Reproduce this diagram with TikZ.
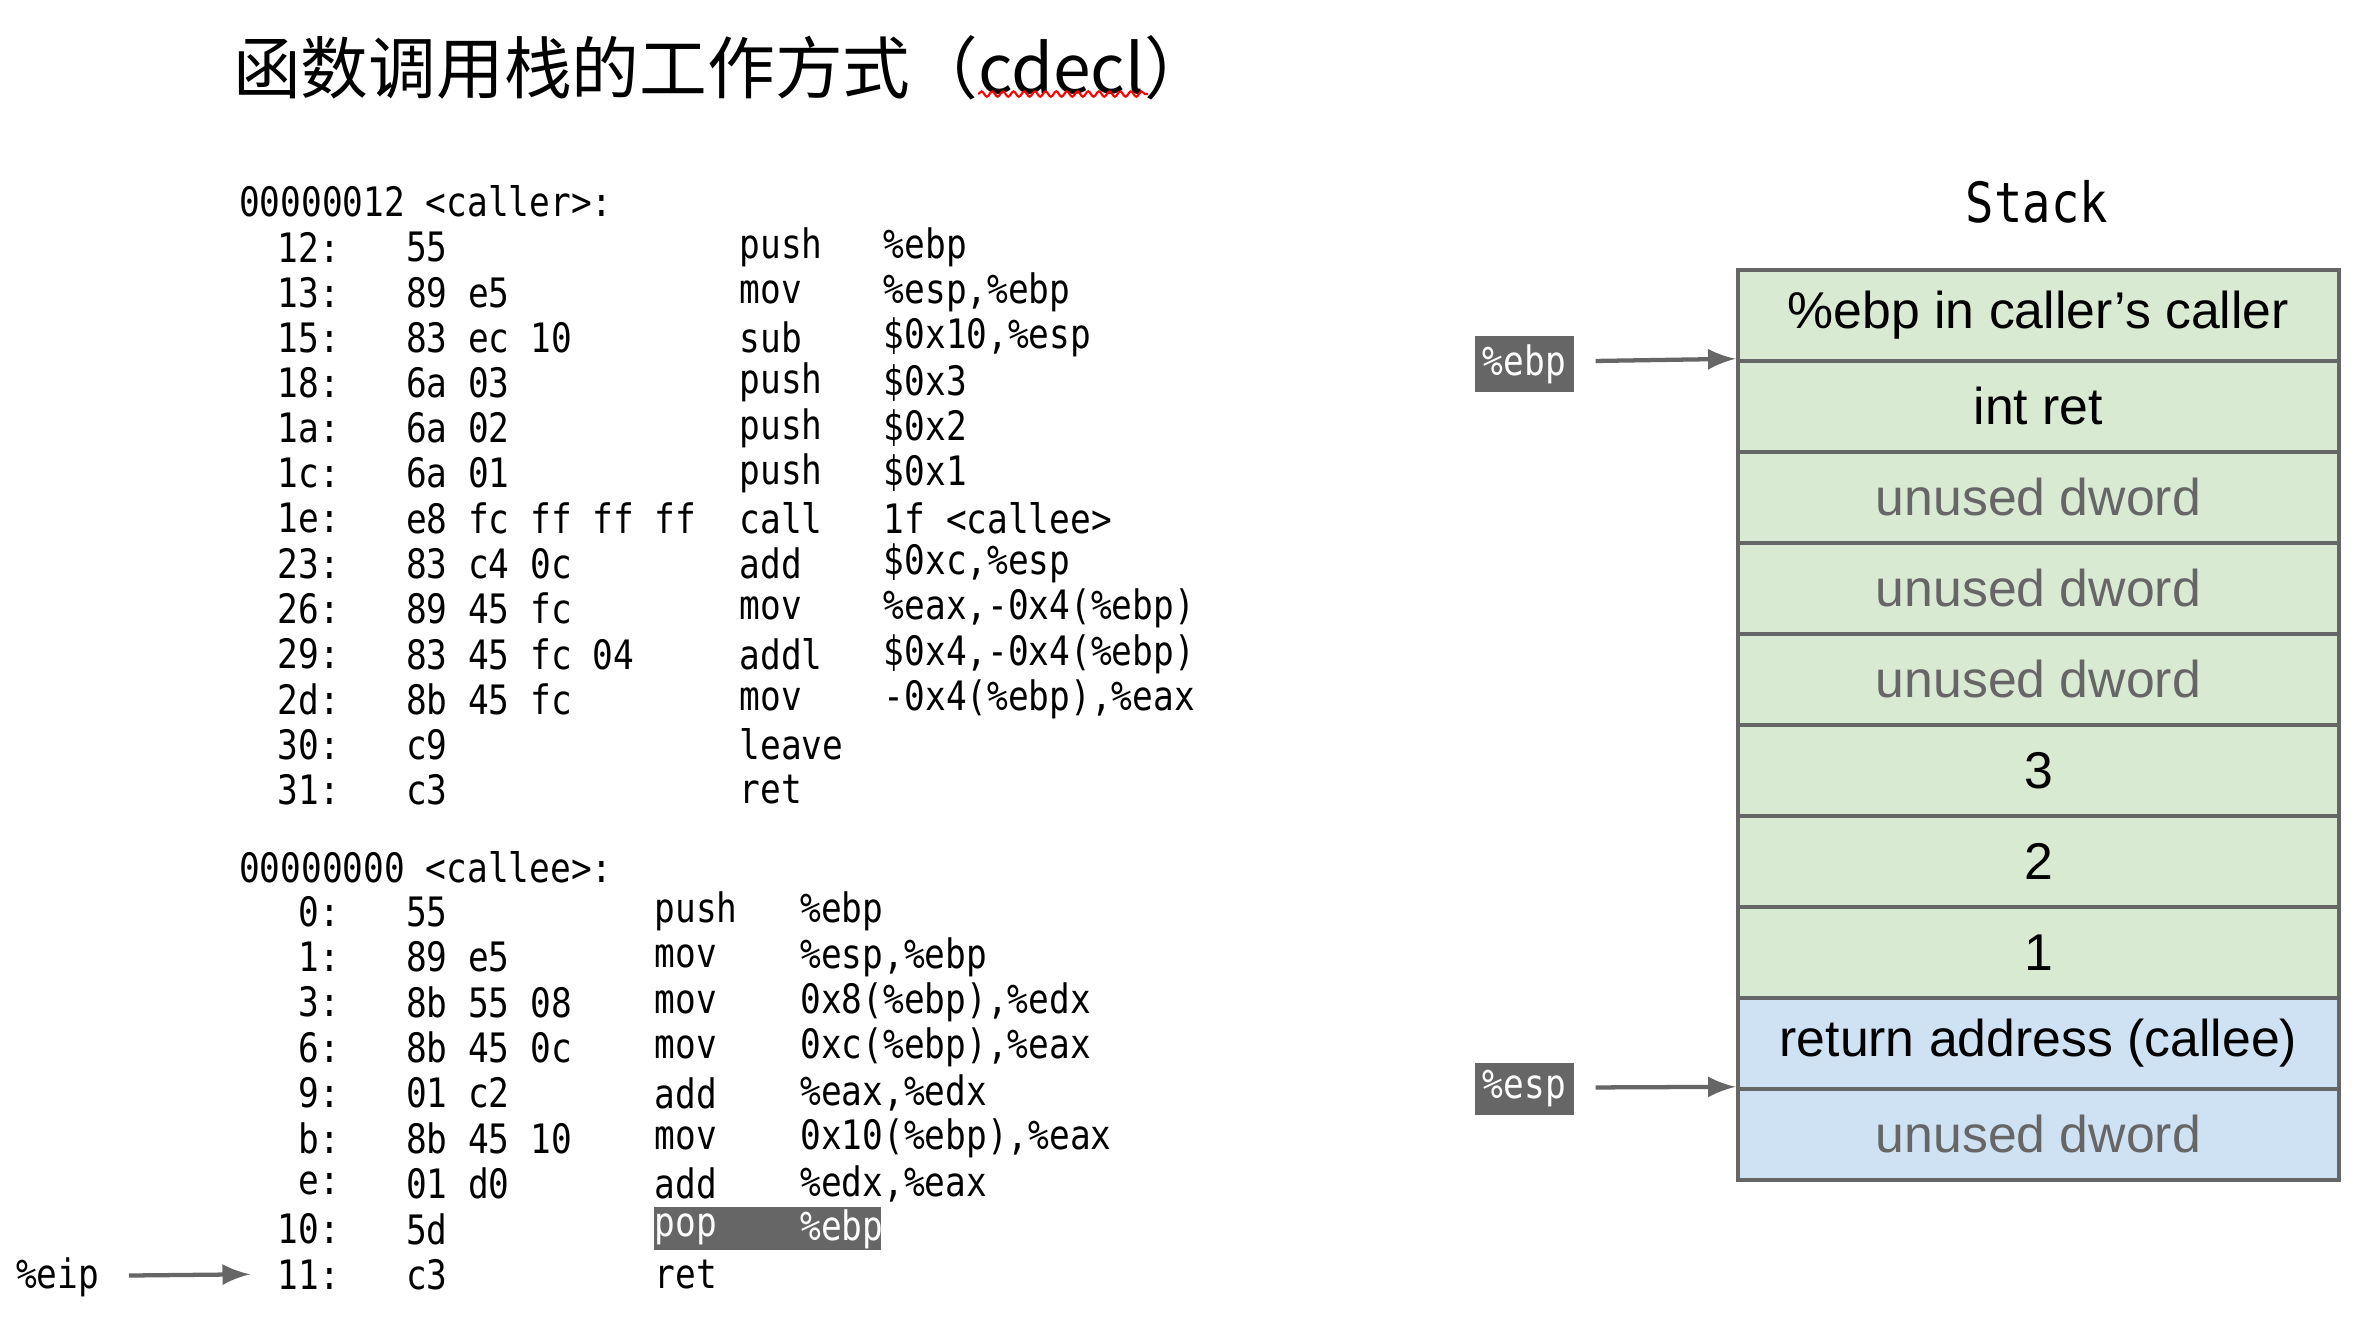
\documentclass[tikz,border=0pt]{standalone}
\usepackage{fontspec}
\setsansfont{Liberation Sans}
\setmonofont[FakeStretch=0.85]{DejaVu Sans Mono}
\newfontfamily\cjk{Noto Sans CJK SC}
\usetikzlibrary{decorations.pathmorphing}
\definecolor{stkgreen}{HTML}{D9EAD3}
\definecolor{stkblue}{HTML}{CFE2F3}
\definecolor{hlgray}{HTML}{666666}
\begin{document}
\begin{tikzpicture}[x=0.01cm,y=-0.01cm,>=latex,
	code/.style={inner sep=0pt,font=\ttfamily\fontsize{7.6}{8}\selectfont},
	addr/.style={code,anchor=east},
	col/.style={code,anchor=west},
	reg/.style={code,fill=hlgray,text=white,inner sep=1.5pt},
	slot/.style={draw=hlgray,thick,minimum width=3.96cm,minimum height=0.6cm,inner sep=0pt,
		font=\sffamily\fontsize{9.7}{10}\selectfont},
	ptr/.style={->,draw=hlgray,thick}]
	
	\useasboundingbox (0,0) rectangle (1560,870);
	
	% title
	\node[anchor=west,inner sep=0pt,font=\cjk\fontsize{12.7}{14}\selectfont] (title) at (153,45)
		{函数调用栈的工作方式（cdecl）};
	\draw[red,decoration={snake,segment length=2pt,amplitude=0.5pt},decorate]
		(645,62) -- (757,62);
	
	% caller listing
	\node[col] (callerhead) at (157,133) {00000012 <caller>:};
	\foreach \a/\b/\m/\o [count=\i from 0] in {
		12:/55/push/\%ebp,
		13:/89 e5/mov/{\%esp,\%ebp},
		15:/83 ec 10/sub/{\$0x10,\%esp},
		18:/6a 03/push/\$0x3,
		1a:/6a 02/push/\$0x2,
		1c:/6a 01/push/\$0x1,
		1e:/e8 fc ff ff ff/call/1f <callee>,
		23:/83 c4 0c/add/{\$0xc,\%esp},
		26:/89 45 fc/mov/{\%eax,-0x4(\%ebp)},
		29:/83 45 fc 04/addl/{\$0x4,-0x4(\%ebp)},
		2d:/8b 45 fc/mov/{-0x4(\%ebp),\%eax},
		30:/c9/leave/{},
		31:/c3/ret/{}}
	{
		\node[addr] (ca\i) at (225,163+29.8*\i) {\a};
		\node[col] (cb\i) at (267,163+29.8*\i) {\b};
		\node[col] (cm\i) at (487,163+29.8*\i) {\m};
		\node[col] (co\i) at (582,163+29.8*\i) {\o};
	}
	
	% callee listing
	\fill[hlgray] (431,796) rectangle (581,824);
	\node[col] (calleehead) at (157,572) {00000000 <callee>:};
	\foreach \a/\b/\m/\o [count=\i from 0] in {
		0:/55/push/\%ebp,
		1:/89 e5/mov/{\%esp,\%ebp},
		3:/8b 55 08/mov/{0x8(\%ebp),\%edx},
		6:/8b 45 0c/mov/{0xc(\%ebp),\%eax},
		9:/01 c2/add/{\%eax,\%edx},
		b:/8b 45 10/mov/{0x10(\%ebp),\%eax},
		e:/01 d0/add/{\%edx,\%eax},
		10:/5d/pop/\%ebp,
		11:/c3/ret/{}}
	{
		\node[addr] (ea\i) at (225,601+29.9*\i) {\a};
		\node[col] (eb\i) at (267,601+29.9*\i) {\b};
		\ifnum\i=7
			\node[col,text=white] (em\i) at (431,601+29.9*\i) {\m};
			\node[col,text=white] (eo\i) at (527,601+29.9*\i) {\o};
		\else
			\node[col] (em\i) at (431,601+29.9*\i) {\m};
			\node[col] (eo\i) at (527,601+29.9*\i) {\o};
		\fi
	}
	
	% stack
	\node[code,font=\ttfamily\fontsize{10.4}{11}\selectfont] (stacktitle) at (1343,133) {Stack};
	\foreach \t/\c/\f [count=\i from 0] in {
		\%ebp in caller's caller/black/stkgreen,
		int ret/black/stkgreen,
		unused dword/hlgray/stkgreen,
		unused dword/hlgray/stkgreen,
		unused dword/hlgray/stkgreen,
		3/black/stkgreen,
		2/black/stkgreen,
		1/black/stkgreen,
		return address (callee)/black/stkblue,
		unused dword/hlgray/stkblue}
	{
		\node[slot,fill=\f,text=\c] (row\i) at (1344,208+60*\i) {\t};
	}
	
	% pointers
	\node[reg] (ebp) at (1005,240) {\%ebp};
	\node[reg] (esp) at (1005,718) {\%esp};
	\node[code] (eip) at (38,842) {\%eip};
	\draw[ptr] (1052,238) -- (row1.north west);
	\draw[ptr] (1052,717) -- (row9.north west);
	\draw[ptr] (85,841) -- ([xshift=-5pt]ea8.west);
	
\end{tikzpicture}
\end{document}
